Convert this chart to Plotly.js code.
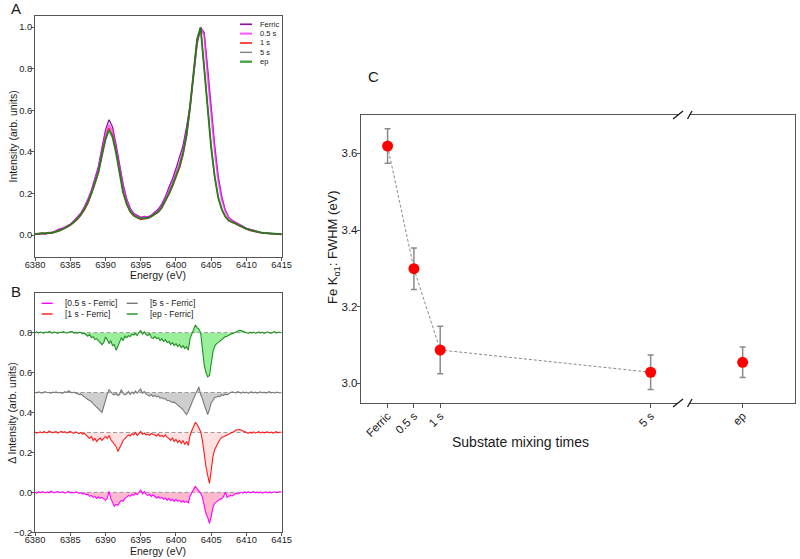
<!DOCTYPE html>
<html><head><meta charset="utf-8">
<script src="https://cdn.plot.ly/plotly-3.0.1.min.js"></script>
<style>html,body{margin:0;padding:0;background:#fff}#chart{width:800px;height:559px}</style>
</head><body><div id="chart"></div>
<script>
// ---------- Panel A: normalised Fe Kα spectra (0.5 eV grid from 6380 eV) ----------
const energyStartA = 6380, energyStepA = 0.5;
const specFerric = [0.005,0.004,0.007,0.006,0.009,0.012,0.020,0.030,0.032,0.040,0.050,
  0.068,0.085,0.105,0.135,0.170,0.215,0.270,0.330,0.420,0.505,
  0.555,0.520,0.435,0.335,0.245,0.175,0.130,0.105,0.095,0.085,
  0.090,0.088,0.095,0.110,0.125,0.150,0.185,0.230,0.270,0.320,
  0.370,0.430,0.520,0.620,0.770,0.920,0.995,0.975,0.800,0.600,
  0.430,0.280,0.185,0.120,0.085,0.070,0.060,0.048,0.040,0.032,
  0.028,0.022,0.016,0.013,0.010,0.008,0.008,0.006,0.005,0.004];
const spec05s = [0.006,0.005,0.008,0.007,0.010,0.013,0.020,0.028,0.034,0.042,0.050,
  0.066,0.083,0.103,0.132,0.168,0.212,0.265,0.322,0.405,0.485,
  0.530,0.500,0.415,0.320,0.235,0.170,0.125,0.100,0.092,0.082,
  0.088,0.085,0.092,0.105,0.118,0.142,0.175,0.215,0.255,0.300,
  0.345,0.405,0.495,0.615,0.775,0.935,1.000,0.960,0.760,0.560,
  0.400,0.260,0.170,0.115,0.082,0.068,0.058,0.046,0.038,0.030,
  0.026,0.020,0.015,0.012,0.010,0.008,0.007,0.006,0.005,0.004];
const spec1s = [0.005,0.007,0.010,0.006,0.012,0.010,0.018,0.020,0.028,0.038,0.046,
  0.060,0.075,0.095,0.120,0.152,0.195,0.245,0.300,0.380,0.465,
  0.515,0.480,0.400,0.292,0.205,0.150,0.112,0.092,0.082,0.075,
  0.078,0.080,0.088,0.098,0.110,0.130,0.160,0.195,0.232,0.275,
  0.322,0.385,0.475,0.615,0.785,0.945,0.995,0.805,0.620,0.420,
  0.278,0.180,0.122,0.088,0.068,0.062,0.054,0.044,0.036,0.028,
  0.022,0.018,0.014,0.011,0.009,0.008,0.006,0.005,0.004,0.003];
const spec5s = [0.004,0.006,0.007,0.009,0.010,0.012,0.015,0.022,0.030,0.037,0.047,
  0.061,0.077,0.097,0.123,0.155,0.198,0.248,0.302,0.382,0.460,
  0.508,0.475,0.398,0.292,0.207,0.152,0.115,0.095,0.086,0.082,
  0.083,0.082,0.090,0.100,0.112,0.133,0.162,0.198,0.236,0.280,
  0.326,0.390,0.478,0.615,0.780,0.940,1.000,0.815,0.625,0.425,
  0.282,0.182,0.125,0.090,0.070,0.062,0.055,0.045,0.038,0.030,
  0.025,0.020,0.016,0.012,0.010,0.008,0.007,0.006,0.005,0.004];
const specEp = [0.005,0.006,0.008,0.008,0.010,0.012,0.016,0.022,0.030,0.038,0.048,
  0.062,0.078,0.098,0.125,0.158,0.200,0.250,0.305,0.385,0.460,
  0.505,0.470,0.395,0.290,0.205,0.150,0.115,0.095,0.085,0.080,
  0.080,0.082,0.090,0.100,0.113,0.135,0.165,0.200,0.240,0.285,
  0.330,0.395,0.480,0.620,0.780,0.940,0.998,0.810,0.620,0.420,
  0.280,0.180,0.125,0.090,0.070,0.062,0.055,0.045,0.038,0.030,
  0.025,0.020,0.015,0.012,0.010,0.008,0.007,0.006,0.005,0.004];
const specLabels = ['Ferric','0.5 s','1 s','5 s','ep'];

// ---------- Panel B: difference spectra (0.25 eV grid from 6380 eV) ----------
const energyStartB = 6380, energyStepB = 0.25;
const diffLabels = ['[0.5 s - Ferric]','[1 s - Ferric]','[5 s - Ferric]','[ep - Ferric]'];
const diffOffsets = [0.0, 0.3, 0.5, 0.8];
const diff05s = [0.000,-0.004,0.003,-0.002, 0.004,0.000,-0.003,0.002, -0.002,0.006,0.001,-0.003,
  0.002,0.004,-0.002,0.000, 0.003,-0.004,0.002,0.005, -0.002,0.001,-0.003,0.002,
  0.000,-0.005,-0.002,-0.008, -0.006,-0.012,-0.010,-0.020, -0.015,-0.025,-0.020,-0.030,
  -0.022,-0.030,-0.025,-0.035, -0.040,-0.030,0.005,-0.030, -0.055,-0.070,-0.060,-0.065,
  -0.050,-0.040,-0.045,-0.030, -0.025,-0.015,-0.020,-0.010, -0.015,-0.005,-0.012,0.000,
  0.012,-0.008,0.004,-0.010, -0.015,-0.010,-0.020,-0.012, -0.020,-0.028,-0.022,-0.030,
  -0.025,-0.035,-0.028,-0.040, -0.030,-0.042,-0.035,-0.045, -0.035,-0.045,-0.040,-0.048,
  -0.042,-0.050,-0.045,-0.052, -0.020,0.000,0.015,0.030, 0.018,0.010,-0.005,-0.025,
  -0.070,-0.105,-0.125,-0.155, -0.120,-0.075,-0.055,-0.045, -0.040,-0.035,-0.032,-0.020,
  0.000,-0.025,-0.020,-0.015, -0.018,-0.010,-0.005,-0.008, -0.003,0.000,-0.004,0.002,
  -0.002,0.003,-0.003,0.000, 0.004,-0.002,0.001,-0.003, 0.002,-0.004,0.000,0.003,
  -0.002,0.002,-0.003,0.001, 0.003,-0.002,0.000,0.004, 0.000];
const diff1s = [0.002,-0.003,0.000,0.003, -0.002,0.004,0.001,-0.002, 0.008,0.003,-0.002,0.002,
  0.004,-0.003,0.002,0.006, 0.000,0.004,-0.003,0.002, 0.005,0.000,-0.004,0.003,
  -0.002,-0.006,0.000,-0.008, -0.005,-0.015,-0.022,-0.030, -0.020,-0.040,-0.030,-0.045,
  -0.035,-0.028,-0.040,-0.030, -0.020,-0.030,-0.015,-0.035, -0.045,-0.060,-0.070,-0.095,
  -0.080,-0.060,-0.040,-0.030, -0.020,-0.012,-0.018,-0.005, -0.012,0.000,-0.015,-0.005,
  0.005,-0.010,-0.003,-0.012, -0.008,-0.015,-0.005,-0.010, -0.012,-0.018,-0.008,-0.020,
  -0.015,-0.022,-0.012,-0.025, -0.030,-0.040,-0.028,-0.045, -0.035,-0.050,-0.040,-0.055,
  -0.040,-0.060,-0.045,-0.065, -0.015,0.010,0.035,0.050, 0.040,0.025,0.005,-0.040,
  -0.110,-0.170,-0.215,-0.255, -0.190,-0.120,-0.085,-0.065, -0.050,-0.035,-0.025,-0.022,
  -0.018,-0.015,-0.008,-0.004, 0.000,0.005,0.012,0.015, 0.015,0.012,0.008,0.004,
  0.000,-0.004,0.002,-0.003, 0.003,-0.002,0.000,0.004, -0.003,0.002,-0.002,0.001,
  0.003,-0.002,0.002,-0.003, 0.000,0.004,-0.002,0.002, 0.000];
const diff5s = [0.002,-0.002,0.003,0.000, -0.003,0.002,0.004,-0.001, 0.001,-0.004,0.002,0.000,
  0.003,-0.002,0.001,-0.003, -0.002,0.004,0.000,0.009, 0.003,-0.002,0.002,-0.004,
  -0.006,-0.010,-0.008,-0.015, -0.020,-0.028,-0.035,-0.040, -0.045,-0.055,-0.065,-0.070,
  -0.080,-0.095,-0.100,-0.070, -0.035,-0.010,0.015,0.002, -0.008,-0.012,-0.005,-0.015,
  -0.010,0.015,-0.005,-0.012, -0.008,0.005,-0.010,0.002, -0.006,0.008,-0.004,0.010,
  0.018,-0.005,0.006,-0.008, -0.012,-0.018,-0.010,-0.020, -0.015,-0.022,-0.018,-0.028,
  -0.025,-0.032,-0.030,-0.040, -0.040,-0.045,-0.050,-0.048, -0.055,-0.065,-0.070,-0.080,
  -0.085,-0.100,-0.110,-0.095, -0.070,-0.050,-0.030,-0.010, 0.010,0.028,-0.010,-0.030,
  -0.060,-0.090,-0.110,-0.085, -0.050,-0.040,-0.025,-0.022, -0.018,-0.020,-0.010,-0.015,
  -0.008,-0.012,-0.004,0.000, 0.003,0.002,-0.002,0.004, 0.000,-0.003,0.003,-0.002,
  0.002,-0.004,0.001,0.003, -0.002,0.002,-0.003,0.000, 0.003,-0.002,0.002,-0.003,
  0.000,0.004,-0.002,0.001, -0.003,0.002,0.000,-0.002, 0.000];
const diffEp = [0.000,0.004,-0.002,0.003, 0.001,-0.003,0.004,0.000, 0.006,0.002,-0.002,0.004,
  0.000,-0.004,0.003,0.001, 0.005,0.000,-0.003,0.002, 0.004,0.006,-0.002,0.001,
  -0.004,0.002,0.000,-0.006, -0.003,-0.012,-0.018,-0.010, -0.025,-0.020,-0.035,-0.030,
  -0.040,-0.045,-0.060,-0.050, -0.022,-0.035,-0.055,-0.040, -0.065,-0.060,-0.088,-0.070,
  -0.050,-0.025,-0.040,-0.018, -0.025,-0.015,-0.020,-0.008, -0.012,-0.005,-0.015,0.002,
  0.010,-0.008,0.004,-0.010, -0.015,-0.005,-0.025,-0.030, -0.020,-0.030,-0.025,-0.040,
  -0.030,-0.045,-0.035,-0.050, -0.045,-0.060,-0.050,-0.065, -0.055,-0.070,-0.060,-0.075,
  -0.065,-0.080,-0.070,-0.088, -0.030,-0.010,0.010,0.038, 0.025,0.018,0.000,-0.080,
  -0.160,-0.200,-0.222,-0.215, -0.150,-0.095,-0.068,-0.055, -0.050,-0.042,-0.035,-0.030,
  -0.020,-0.018,-0.012,-0.008, -0.005,0.000,0.006,0.010, 0.012,0.010,0.006,0.002,
  0.000,-0.004,0.002,-0.002, 0.003,-0.003,0.000,0.004, -0.002,0.003,-0.004,0.001,
  0.004,0.000,-0.003,0.002, 0.005,-0.002,0.003,0.001, 0.000];

// ---------- Panel C: Fe Kα1 FWHM vs mixing time ----------
const mixingLabels = ['Ferric','0.5 s','1 s','5 s'];
const mixingTimes = [0, 0.5, 1, 5];
const fwhmTimed = [3.619, 3.299, 3.087, 3.029];
const fwhmTimedErr = [0.045, 0.054, 0.062, 0.045];
const epLabels = ['ep'];
const fwhmEp = [3.055];
const fwhmEpErr = [0.040];

// ---------- helpers ----------
const W = 800, H = 559;
const px = x => x / W, py = y => 1 - y / H;
const grid = (arr, s, d) => arr.map((_, i) => s + i * d);
const FONT = 'Liberation Sans, Arial, sans-serif';
const TXT = '#1a1a1a', FRAME = '#555555';

const specData = [specFerric, spec05s, spec1s, spec5s, specEp];
const specStyle = [
  {color:'#8c14a0', width:1.3},
  {color:'rgba(255,40,255,0.75)', width:1.8},
  {color:'rgba(255,0,0,0.85)', width:1.3},
  {color:'#808080', width:1.0},
  {color:'rgba(0,128,0,0.72)', width:2.0}
];
const diffData = [diff05s, diff1s, diff5s, diffEp];
const diffLine = ['#ff00ff', '#ff1a1a', '#7a7a7a', '#1f8f1f'];
const diffFill = ['rgba(255,160,190,0.75)', 'rgba(255,200,200,0.55)', 'rgba(190,190,190,0.75)', 'rgba(120,235,120,0.75)'];

const traces = [];
specData.forEach((arr, k) => {
  traces.push({type:'scatter', mode:'lines', name:specLabels[k], x:grid(arr, energyStartA, energyStepA), y:arr,
    xaxis:'x', yaxis:'y', line:{color:specStyle[k].color, width:specStyle[k].width}, showlegend:false, hoverinfo:'skip'});
});
diffData.forEach((arr, k) => {
  const off = diffOffsets[k];
  const xb = grid(arr, energyStartB, energyStepB);
  traces.push({type:'scatter', mode:'lines', x:[xb[0], xb[xb.length-1]], y:[off, off], xaxis:'x2', yaxis:'y2',
    line:{color:'#9a9a9a', width:1, dash:'4px,2.5px'}, showlegend:false, hoverinfo:'skip'});
  traces.push({type:'scatter', mode:'lines', name:diffLabels[k], x:xb, y:arr.map(v => v + off), xaxis:'x2', yaxis:'y2',
    fill:'tonexty', fillcolor:diffFill[k], line:{color:diffLine[k], width:1.1}, showlegend:false, hoverinfo:'skip'});
});
traces.push({type:'scatter', mode:'lines+markers', x:mixingTimes, y:fwhmTimed, xaxis:'x3', yaxis:'y3',
  line:{color:'#8a8a8a', width:1, dash:'3px,2px'}, marker:{color:'#ff0000', size:11},
  error_y:{type:'data', array:fwhmTimedErr, visible:true, color:'#8a8a8a', thickness:1.5, width:3},
  showlegend:false, hoverinfo:'skip'});
traces.push({type:'scatter', mode:'markers', x:epLabels, y:fwhmEp, xaxis:'x4', yaxis:'y4',
  marker:{color:'#ff0000', size:11},
  error_y:{type:'data', array:fwhmEpErr, visible:true, color:'#8a8a8a', thickness:1.5, width:3},
  showlegend:false, hoverinfo:'skip'});

const frameAxis = {showline:true, linecolor:FRAME, linewidth:1, mirror:true, ticks:'outside', ticklen:3,
  tickcolor:FRAME, showgrid:false, zeroline:false, tickfont:{family:FONT, size:9.3, color:TXT}};
const cY = [2.948, 3.70];
const cTickFont = {family:FONT, size:11.5, color:TXT};

const layout = {
  width:W, height:H, margin:{l:0, r:0, t:0, b:0}, paper_bgcolor:'#fff', plot_bgcolor:'#fff',
  showlegend:false, font:{family:FONT, color:TXT},
  xaxis: Object.assign({}, frameAxis, {domain:[px(35), px(281.7)], range:[6380, 6415], anchor:'y',
    tickvals:[6380,6385,6390,6395,6400,6405,6410,6415], ticklabelstandoff:-4}),
  yaxis: Object.assign({}, frameAxis, {domain:[py(256.7), py(16)], range:[-0.104, 1.054], anchor:'x',
    tickvals:[0,0.2,0.4,0.6,0.8,1.0], tickformat:'.1f', ticklabelstandoff:-3}),
  xaxis2: Object.assign({}, frameAxis, {domain:[px(35), px(281.7)], range:[6380, 6415], anchor:'y2',
    tickvals:[6380,6385,6390,6395,6400,6405,6410,6415], ticklabelstandoff:-4}),
  yaxis2: Object.assign({}, frameAxis, {domain:[py(532.3), py(293.3)], range:[-0.2, 0.997], anchor:'x2',
    tickvals:[-0.2,0,0.2,0.4,0.6,0.8], tickformat:'.1f', ticklabelstandoff:-3}),
  xaxis3: Object.assign({}, frameAxis, {domain:[px(361.3), px(678)], range:[-0.5, 5.52], anchor:'y3', ticklen:3.5,
    tickvals:mixingTimes, ticktext:mixingLabels, tickangle:-45, tickfont:cTickFont, ticklabelstandoff:-3}),
  yaxis3: Object.assign({}, frameAxis, {domain:[py(403.3), py(115)], range:cY, anchor:'x3', mirror:false, ticklen:3.5,
    tickvals:[3.0,3.2,3.4,3.6], tickformat:'.1f', tickfont:cTickFont, ticklabelstandoff:-3}),
  xaxis4: Object.assign({}, frameAxis, {domain:[px(690), px(795.3)], type:'category', range:[-0.5, 0.5], anchor:'y4', ticklen:3.5,
    tickangle:-45, tickfont:cTickFont, ticklabelstandoff:-3}),
  yaxis4: {domain:[py(403.3), py(115)], range:cY, anchor:'x4', side:'right', showline:true, linecolor:FRAME, linewidth:1,
    showticklabels:false, ticks:'', showgrid:false, zeroline:false},
  annotations: [], shapes: []
};

const ann = (text, x, y, o) => layout.annotations.push(Object.assign({text, x:px(x), y:py(y), xref:'paper', yref:'paper',
  xanchor:'center', yanchor:'middle', showarrow:false, font:{family:FONT, size:10.5, color:TXT}}, o || {}));
// panel letters
ann('A', 16, 9, {font:{family:FONT, size:15, color:TXT}});
ann('B', 16, 291, {font:{family:FONT, size:15, color:TXT}});
ann('C', 373, 76, {font:{family:FONT, size:15, color:TXT}});
// axis titles
ann('Intensity (arb. units)', 12, 136.5, {textangle:-90});
ann('Energy (eV)', 158, 275);
ann('Δ Intensity (arb. units)', 12, 412.8, {textangle:-90});
ann('Energy (eV)', 158, 550.5);
ann('Fe K<sub>α1</sub>: FWHM (eV)', 333, 247, {textangle:-90, font:{family:FONT, size:13, color:TXT}});
ann('Substate mixing times', 520, 442, {font:{family:FONT, size:14, color:TXT}});

// legend A
const legA = {x0:240, x1:252, xt:257.5, y0:24.3, dy:9.35};
specLabels.forEach((lab, k) => {
  const y = legA.y0 + k * legA.dy;
  layout.shapes.push({type:'line', xref:'paper', yref:'paper', x0:px(legA.x0), x1:px(legA.x1), y0:py(y), y1:py(y),
    line:{color:specStyle[k].color, width:specStyle[k].width + 0.4}});
  ann(lab, legA.xt, y, {xanchor:'left', font:{family:FONT, size:7.5, color:TXT}});
});
// legend B (two columns)
const legB = [{x0:41.7, x1:52.7, xt:62.5}, {x0:126.7, x1:137.7, xt:147.5}];
const legBy = [303.3, 314];
diffLabels.forEach((lab, k) => {
  const col = k < 2 ? 0 : 1, row = k % 2;
  const c = legB[col], y = legBy[row];
  layout.shapes.push({type:'line', xref:'paper', yref:'paper', x0:px(c.x0), x1:px(c.x1), y0:py(y), y1:py(y),
    line:{color:diffLine[k], width:1.4}});
  ann(lab, c.xt, y, {xanchor:'left', font:{family:FONT, size:8.5, color:TXT}});
});
// axis-break marks
[[673,119,683,111],[687.5,119,692,111],[673,407,683,399],[687.5,407,692,399]].forEach(s => {
  layout.shapes.push({type:'line', xref:'paper', yref:'paper', x0:px(s[0]), y0:py(s[1]), x1:px(s[2]), y1:py(s[3]),
    line:{color:'#111', width:1.2}});
});

Plotly.newPlot('chart', traces, layout, {displayModeBar:false, staticPlot:true});
</script></body></html>
